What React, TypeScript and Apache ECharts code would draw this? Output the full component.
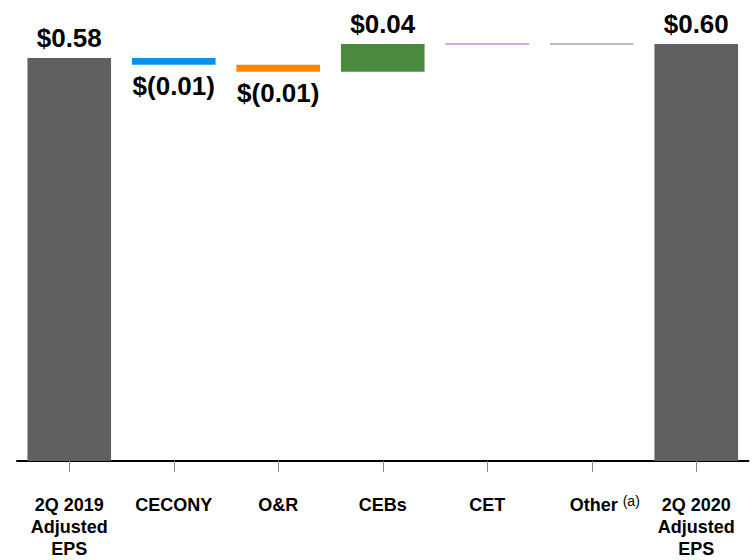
import React, { useEffect, useRef } from "react";
import * as echarts from "echarts";

const categories = ["2Q 2019\nAdjusted\nEPS", "CECONY", "O&R", "CEBs", "CET", "Other", "2Q 2020\nAdjusted\nEPS"];
const deltas = [0.58, -0.01, -0.01, 0.04, 0.0, 0.0, 0.6];
const isTotal = [true, false, false, false, false, false, true];
const valueLabels = ["$0.58", "$(0.01)", "$(0.01)", "$0.04", "", "", "$0.60"];
const barColors = ["#606060", "#0b90e9", "#ff8400", "#4b8a3e", "#c48cf0", "#a8a8a8", "#606060"];

export default function App() {
  const ref = useRef<HTMLDivElement>(null);
  useEffect(() => {
    if (!ref.current) return;
    const chart = echarts.init(ref.current, null, { renderer: "svg" });
    const base: number[] = [];
    const vis: any[] = [];
    let running = 0;
    deltas.forEach((d, i) => {
      let b: number;
      let h: number;
      if (isTotal[i]) {
        b = 0;
        h = d;
        running = d;
      } else {
        const next = running + d;
        b = Math.min(running, next);
        h = Math.abs(d);
        running = next;
      }
      base.push(+b.toFixed(4));
      vis.push({
        value: +h.toFixed(4),
        itemStyle: h === 0 ? { color: barColors[i], borderColor: barColors[i], borderWidth: 1 } : { color: barColors[i] },
        label: {
          show: valueLabels[i] !== "",
          formatter: valueLabels[i],
          position: d < 0 ? "bottom" : "top",
          distance: d < 0 ? 8 : 7,
        },
      });
    });

    chart.setOption({
      animation: false,
      grid: { left: 17, right: 3.5, top: 44, bottom: 98.5, containLabel: false },
      xAxis: {
        type: "category",
        data: categories,
        axisLine: { lineStyle: { color: "#000", width: 2 } },
        axisTick: { show: true, alignWithLabel: true, length: 11, lineStyle: { color: "#888", width: 1 } },
        axisLabel: {
          interval: 0,
          margin: 33,
          color: "#000",
          fontFamily: "Liberation Sans, Arial, sans-serif",
          fontWeight: "bold",
          fontSize: 18,
          lineHeight: 22,
          formatter: (v: string) => (v === "Other" ? "{pad|}{b|Other} {sup|(a)}" : "{b|" + v.split("\n").join("}\n{b|") + "}"),
          rich: {
            b: { fontSize: 18, fontWeight: "bold", color: "#000", lineHeight: 22, fontFamily: "Liberation Sans, Arial, sans-serif" },
            pad: { width: 26 },
            sup: { fontSize: 14, fontWeight: "normal", color: "#000", verticalAlign: "top", padding: [0, 0, 10, 0], fontFamily: "Liberation Sans, Arial, sans-serif" },
          },
        },
        splitLine: { show: false },
      },
      yAxis: {
        type: "value",
        min: 0,
        max: 0.6,
        show: false,
        splitLine: { show: false },
      },
      series: [
        {
          type: "bar",
          stack: "w",
          data: base,
          itemStyle: { color: "transparent" },
          emphasis: { disabled: true },
          silent: true,
          barCategoryGap: "20%",
        },
        {
          type: "bar",
          stack: "w",
          data: vis,
          barCategoryGap: "20%",
          emphasis: { disabled: true },
          label: {
            color: "#000",
            fontFamily: "Liberation Sans, Arial, sans-serif",
            fontWeight: "bold",
            fontSize: 26,
          },
        },
      ],
    });
    return () => chart.dispose();
  }, []);
  return <div ref={ref} style={{ position: "absolute", left: 0, top: 0, width: 752, height: 560 }} />;
}
